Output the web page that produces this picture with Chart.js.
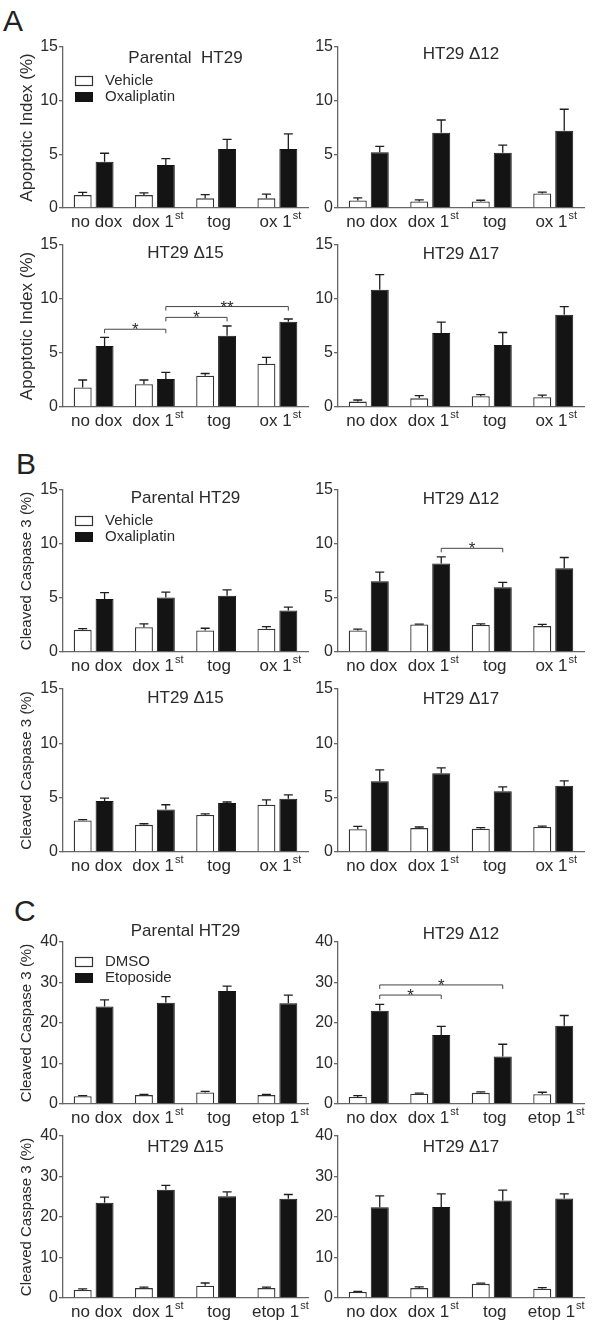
<!DOCTYPE html>
<html>
<head>
<meta charset="utf-8">
<title>Apoptotic index and cleaved caspase 3</title>
<script src="https://cdn.jsdelivr.net/npm/chart.js@4/dist/chart.umd.min.js"></script>
<style>
  body { margin: 0; background: #fff; }
  #fig { position: relative; width: 600px; height: 1333px; overflow: hidden; }
  #fig canvas { position: absolute; }
  .part { position: absolute; font: 30px "Liberation Sans", Arial, sans-serif; line-height: 1; color: #222; }
</style>
</head>
<body>
<div id="fig">
  <div class="part" style="left:3px;top:6px">A</div>
  <div class="part" style="left:16px;top:449px">B</div>
  <div class="part" style="left:14px;top:896px">C</div>
</div>
<script>
// categories
var oxLabels = ['no dox', 'dox 1st', 'tog', 'ox 1st'];
var etLabels = ['no dox', 'dox 1st', 'tog', 'etop 1st'];
var oxNames = ['Vehicle', 'Oxaliplatin'];
var etNames = ['DMSO', 'Etoposide'];

// A - apoptotic index (%)
var aParVeh = [1.2, 1.2, 0.9, 0.9];
var aParVehErr = [0.25, 0.2, 0.35, 0.4];
var aParOx = [4.3, 4.0, 5.5, 5.5];
var aParOxErr = [0.8, 0.6, 0.9, 1.4];
var a12Veh = [0.7, 0.6, 0.6, 1.35];
var a12VehErr = [0.25, 0.15, 0.12, 0.12];
var a12Ox = [5.2, 7.0, 5.15, 7.2];
var a12OxErr = [0.55, 1.2, 0.7, 2.0];
var a15Veh = [1.8, 2.1, 2.9, 4.0];
var a15VehErr = [0.7, 0.4, 0.2, 0.6];
var a15Ox = [5.65, 2.6, 6.6, 7.9];
var a15OxErr = [0.8, 0.6, 0.9, 0.25];
var a17Veh = [0.5, 0.8, 1.0, 0.9];
var a17VehErr = [0.15, 0.25, 0.15, 0.2];
var a17Ox = [10.85, 6.85, 5.75, 8.55];
var a17OxErr = [1.4, 1.0, 1.15, 0.75];
var a15Sig = [[0, 1, 7.2, '*'], [1, 2, 8.3, '*'], [1, 3, 9.3, '**']];

// B - cleaved caspase 3 (%), oxaliplatin
var bParVeh = [2.05, 2.3, 2.0, 2.15];
var bParVehErr = [0.12, 0.3, 0.2, 0.2];
var bParOx = [4.9, 5.05, 5.2, 3.85];
var bParOxErr = [0.6, 0.5, 0.55, 0.3];
var b12Veh = [2.0, 2.55, 2.5, 2.4];
var b12VehErr = [0.12, 0.03, 0.1, 0.15];
var b12Ox = [6.55, 8.2, 6.0, 7.75];
var b12OxErr = [0.85, 0.6, 0.45, 1.0];
var b15Veh = [2.9, 2.5, 3.4, 4.35];
var b15VehErr = [0.08, 0.1, 0.1, 0.45];
var b15Ox = [4.7, 3.9, 4.5, 4.9];
var b15OxErr = [0.25, 0.45, 0.1, 0.35];
var b17Veh = [2.1, 2.2, 2.15, 2.3];
var b17VehErr = [0.25, 0.1, 0.1, 0.08];
var b17Ox = [6.5, 7.25, 5.6, 6.1];
var b17OxErr = [1.05, 0.5, 0.4, 0.45];
var b12Sig = [[1, 2, 9.6, '*']];

// C - cleaved caspase 3 (%), etoposide
var cParVeh = [1.9, 2.2, 2.85, 2.2];
var cParVehErr = [0.15, 0.2, 0.25, 0.15];
var cParEt = [24.1, 25.0, 27.9, 24.9];
var cParEtErr = [1.6, 1.5, 1.2, 2.0];
var c12Veh = [1.75, 2.55, 2.75, 2.4];
var c12VehErr = [0.3, 0.15, 0.25, 0.5];
var c12Et = [23.0, 17.05, 11.7, 19.3];
var c12EtErr = [1.6, 2.1, 3.05, 2.55];
var c15Veh = [2.0, 2.45, 3.05, 2.45];
var c15VehErr = [0.25, 0.25, 0.65, 0.25];
var c15Et = [23.5, 26.7, 25.15, 24.5];
var c15EtErr = [1.4, 1.1, 1.05, 1.05];
var c17Veh = [1.5, 2.45, 3.5, 2.3];
var c17VehErr = [0.15, 0.3, 0.15, 0.25];
var c17Et = [22.4, 22.5, 24.05, 24.55];
var c17EtErr = [2.8, 3.2, 2.6, 1.15];
var c12Sig = [[0, 1, 26.9, '*'], [0, 2, 29.4, '*']];

var FONT = '"Liberation Sans", Arial, sans-serif';
var INK = '#2b2b2b';
var AXIS = '#666';
Chart.defaults.font.family = FONT;
Chart.defaults.color = INK;

// layout of the 6 rows (pixel top / bottom of each plot area)
var rowTop = [47, 245, 490, 689, 942, 1136];
var rowBottom = [208, 407, 652, 852, 1104, 1298];
var PAD_TOP = 28, X_H = 38;

var apo = 'Apoptotic Index (%)', casp = 'Cleaved Caspase 3 (%)';

var panels = [
  {row: 0, col: 0, title: 'Parental  HT29', titleDy: 11, yTitle: apo, yFont: 17, max: 15, step: 5, cats: oxLabels, names: oxNames,
   ctrl: aParVeh, ctrlErr: aParVehErr, drug: aParOx, drugErr: aParOxErr, legendDy: 34},
  {row: 0, col: 1, title: 'HT29 Δ12', titleDy: 7, max: 15, step: 5, cats: oxLabels, names: oxNames,
   ctrl: a12Veh, ctrlErr: a12VehErr, drug: a12Ox, drugErr: a12OxErr},
  {row: 1, col: 0, title: 'HT29 Δ15', titleDy: 8, yTitle: apo, yFont: 17, max: 15, step: 5, cats: oxLabels, names: oxNames,
   ctrl: a15Veh, ctrlErr: a15VehErr, drug: a15Ox, drugErr: a15OxErr, sig: a15Sig},
  {row: 1, col: 1, title: 'HT29 Δ17', titleDy: 9, max: 15, step: 5, cats: oxLabels, names: oxNames,
   ctrl: a17Veh, ctrlErr: a17VehErr, drug: a17Ox, drugErr: a17OxErr},

  {row: 2, col: 0, title: 'Parental HT29', titleDy: 8, yTitle: casp, yFont: 15, max: 15, step: 5, cats: oxLabels, names: oxNames,
   ctrl: bParVeh, ctrlErr: bParVehErr, drug: bParOx, drugErr: bParOxErr, legendDy: 31},
  {row: 2, col: 1, title: 'HT29 Δ12', titleDy: 9, max: 15, step: 5, cats: oxLabels, names: oxNames,
   ctrl: b12Veh, ctrlErr: b12VehErr, drug: b12Ox, drugErr: b12OxErr, sig: b12Sig},
  {row: 3, col: 0, title: 'HT29 Δ15', titleDy: 9, yTitle: casp, yFont: 15, max: 15, step: 5, cats: oxLabels, names: oxNames,
   ctrl: b15Veh, ctrlErr: b15VehErr, drug: b15Ox, drugErr: b15OxErr},
  {row: 3, col: 1, title: 'HT29 Δ17', titleDy: 10, max: 15, step: 5, cats: oxLabels, names: oxNames,
   ctrl: b17Veh, ctrlErr: b17VehErr, drug: b17Ox, drugErr: b17OxErr},

  {row: 4, col: 0, title: 'Parental HT29', titleDy: -11, yTitle: casp, yFont: 15, max: 40, step: 10, cats: etLabels, names: etNames,
   ctrl: cParVeh, ctrlErr: cParVehErr, drug: cParEt, drugErr: cParEtErr, legendDy: 20},
  {row: 4, col: 1, title: 'HT29 Δ12', titleDy: -8, max: 40, step: 10, cats: etLabels, names: etNames,
   ctrl: c12Veh, ctrlErr: c12VehErr, drug: c12Et, drugErr: c12EtErr, sig: c12Sig},
  {row: 5, col: 0, title: 'HT29 Δ15', titleDy: 11, yTitle: casp, yFont: 15, max: 40, step: 10, cats: etLabels, names: etNames,
   ctrl: c15Veh, ctrlErr: c15VehErr, drug: c15Et, drugErr: c15EtErr},
  {row: 5, col: 1, title: 'HT29 Δ17', titleDy: 11, max: 40, step: 10, cats: etLabels, names: etNames,
   ctrl: c17Veh, ctrlErr: c17VehErr, drug: c17Et, drugErr: c17EtErr}
];

// draws error bars, significance brackets, panel title, legend and x labels (with superscript)
function panelPlugin(p) {
  return {
    id: 'extras',
    afterDatasetsDraw: function(chart) {
      var ctx = chart.ctx, area = chart.chartArea, y = chart.scales.y;
      ctx.save();

      ctx.strokeStyle = '#1e1e1e';
      ctx.lineWidth = 1.3;
      chart.data.datasets.forEach(function(ds, di) {
        chart.getDatasetMeta(di).data.forEach(function(bar, i) {
          var top = y.getPixelForValue(ds.data[i] + ds.errors[i]);
          ctx.beginPath();
          ctx.moveTo(bar.x, bar.y);
          ctx.lineTo(bar.x, top);
          ctx.moveTo(bar.x - 4.5, top);
          ctx.lineTo(bar.x + 4.5, top);
          ctx.stroke();
        });
      });

      if (p.sig) {
        var drugBars = chart.getDatasetMeta(1).data;
        ctx.strokeStyle = '#444';
        ctx.lineWidth = 1;
        ctx.fillStyle = INK;
        ctx.font = '17px ' + FONT;
        ctx.textAlign = 'center';
        ctx.textBaseline = 'alphabetic';
        p.sig.forEach(function(s) {
          var xa = drugBars[s[0]].x, xb = drugBars[s[1]].x, yy = y.getPixelForValue(s[2]);
          ctx.beginPath();
          ctx.moveTo(xa, yy + 4);
          ctx.lineTo(xa, yy);
          ctx.lineTo(xb, yy);
          ctx.lineTo(xb, yy + 4);
          ctx.stroke();
          ctx.fillText(s[3], (xa + xb) / 2, yy + 6);
        });
      }

      // title
      ctx.fillStyle = INK;
      ctx.font = '17px ' + FONT;
      ctx.textAlign = 'center';
      ctx.textBaseline = 'middle';
      ctx.fillText(p.title, (area.left + area.right) / 2, area.top + p.titleDy);

      // legend
      if (p.legendDy != null) {
        var bx = area.left + 12;
        [0, 1].forEach(function(k) {
          var cy = area.top + p.legendDy + k * 16;
          ctx.fillStyle = k ? '#141414' : '#fff';
          ctx.fillRect(bx, cy - 5, 18, 10);
          if (!k) {
            ctx.strokeStyle = '#333';
            ctx.lineWidth = 1.2;
            ctx.strokeRect(bx + 0.5, cy - 4.5, 17, 9);
          }
          ctx.fillStyle = INK;
          ctx.font = '15px ' + FONT;
          ctx.textAlign = 'left';
          ctx.textBaseline = 'middle';
          ctx.fillText(chart.data.datasets[k].label, bx + 30, cy);
        });
      }

      // x labels
      var xs = chart.scales.x;
      var base = area.bottom + 19;
      ctx.fillStyle = INK;
      ctx.textAlign = 'left';
      ctx.textBaseline = 'alphabetic';
      chart.data.labels.forEach(function(lab, i) {
        var m = lab.match(/^(.*\d)(st)$/);
        var main = m ? m[1] : lab, sup = m ? m[2] : '';
        ctx.font = '17px ' + FONT;
        var w1 = ctx.measureText(main).width;
        ctx.font = '11px ' + FONT;
        var w2 = sup ? ctx.measureText(sup).width + 1 : 0;
        var x0 = xs.getPixelForValue(i) - (w1 + w2) / 2 + 3;
        ctx.font = '17px ' + FONT;
        ctx.fillText(main, x0, base);
        if (sup) {
          ctx.font = '11px ' + FONT;
          ctx.fillText(sup, x0 + w1 + 1, base - 8);
        }
      });

      ctx.restore();
    }
  };
}

function makePanel(p) {
  var left = p.col === 0;
  var top = rowTop[p.row], bottom = rowBottom[p.row];
  var c = document.createElement('canvas');
  c.width = left ? 310 : 300;
  c.height = bottom - top + PAD_TOP + X_H;
  c.style.left = (left ? 0 : 300) + 'px';
  c.style.top = (top - PAD_TOP) + 'px';
  document.getElementById('fig').appendChild(c);

  var yTitleFont = p.yFont || 15;
  new Chart(c, {
    type: 'bar',
    data: {
      labels: p.cats,
      datasets: [
        {label: p.names[0], data: p.ctrl, errors: p.ctrlErr, backgroundColor: '#fff', borderColor: '#333',
         borderWidth: 1.3, categoryPercentage: 0.715, barPercentage: 0.82},
        {label: p.names[1], data: p.drug, errors: p.drugErr, backgroundColor: '#141414', borderColor: '#141414',
         borderWidth: 1, categoryPercentage: 0.715, barPercentage: 0.82}
      ]
    },
    options: {
      responsive: false,
      animation: false,
      devicePixelRatio: 1,
      layout: {padding: {top: PAD_TOP, left: 0, right: left ? 2 : 16, bottom: 0}},
      plugins: {legend: {display: false}, tooltip: {enabled: false}},
      scales: {
        x: {
          ticks: {display: false},
          grid: {display: false},
          border: {display: true, color: AXIS, width: 1.3},
          afterFit: function(s) { s.height = X_H; }
        },
        y: {
          min: 0,
          max: p.max,
          ticks: {stepSize: p.step, font: {size: 16}, color: INK, padding: 1},
          grid: {drawOnChartArea: false, drawTicks: true, tickLength: 4, color: AXIS, lineWidth: 1.3},
          border: {display: true, color: AXIS, width: 1.3},
          title: {
            display: !!p.yTitle,
            text: p.yTitle || '',
            color: INK,
            font: {size: yTitleFont},
            padding: {top: 27 - yTitleFont * 0.6, bottom: 0}
          },
          afterFit: function(s) { s.width = left ? 63 : 38; }
        }
      }
    },
    plugins: [panelPlugin(p)]
  });
}

panels.forEach(makePanel);
</script>
</body>
</html>
